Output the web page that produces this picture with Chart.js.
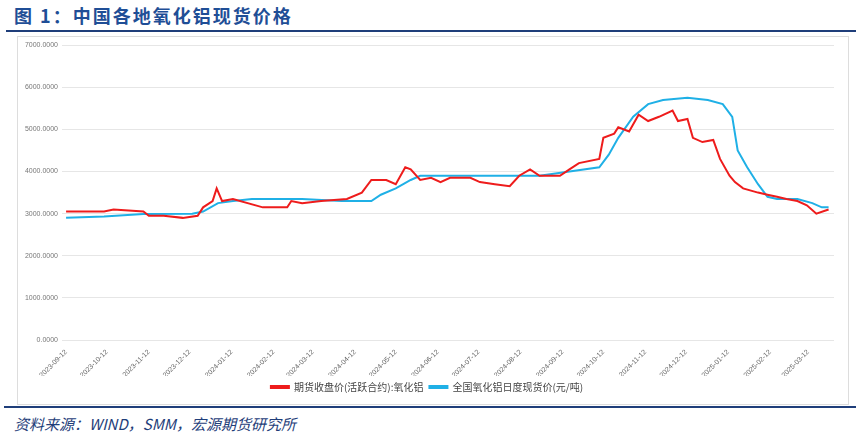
<!DOCTYPE html>
<html><head><meta charset="utf-8">
<script src="https://cdn.jsdelivr.net/npm/chart.js@4"></script>
<style>
body{margin:0;background:#fff;width:861px;height:439px;overflow:hidden;font-family:"Noto Sans CJK SC",sans-serif;}
#title{position:absolute;left:14px;top:2px;font-size:18px;font-weight:bold;color:#1f4e96;letter-spacing:2px;}
#rule1{position:absolute;left:6px;top:30px;width:850px;height:2px;background:#1f3e7a;}
#box{position:absolute;left:17px;top:36px;width:830px;height:367px;border:1px solid #ddd;}
#rule2{position:absolute;left:4px;top:406px;width:852px;height:2px;background:#1f3e7a;}
#src{position:absolute;left:14px;top:413px;font-size:15px;font-style:italic;color:#1f3e7a;font-family:"Noto Sans CJK SC","Liberation Serif",serif;}
</style></head><body>
<div id="title">图 1：中国各地氧化铝现货价格</div>
<div id="rule1"></div>
<div id="box"><canvas id="c" width="830" height="367"></canvas></div>
<div id="rule2"></div>
<div id="src">资料来源：WIND，SMM，宏源期货研究所</div>
<script>
// 天数：自 2023-09-12 起
const futDays = [0,28,35,57,61,72,86,97,101,108,111,115,123,145,163,166,174,188,207,218,225,236,243,250,254,261,269,276,283,298,305,316,327,334,342,349,364,371,378,393,396,404,407,415,422,429,437,447,451,458,462,469,477,482,489,493,499,510,517,524,531,539,546,553,562];
const futVals = [3050,3050,3100,3050,2950,2950,2900,2950,3150,3300,3600,3300,3350,3150,3150,3300,3250,3300,3350,3500,3800,3800,3700,4100,4050,3800,3850,3750,3850,3850,3750,3700,3650,3900,4050,3900,3900,4050,4200,4300,4800,4900,5050,4950,5350,5200,5300,5450,5200,5250,4800,4700,4750,4300,3900,3750,3600,3500,3450,3400,3350,3300,3200,3000,3100];
const spotDays = [0,28,57,93,101,112,123,137,174,203,225,232,243,254,261,320,349,371,393,400,407,418,429,440,458,473,484,491,495,502,510,517,524,539,550,557,562];
const spotVals = [2900,2930,2990,3000,3050,3250,3300,3350,3350,3300,3300,3450,3600,3800,3900,3900,3900,4000,4100,4400,4800,5300,5600,5700,5750,5700,5600,5300,4500,4100,3700,3400,3350,3350,3250,3150,3150];
const labelFut = '期货收盘价(活跃合约):氧化铝';
const labelSpot = '全国氧化铝日度现货价(元/吨)';

const base = Date.UTC(2023, 8, 12);
const monthTicks = [];
for (let m = 0; m <= 18; m++) {
    monthTicks.push(Math.round((Date.UTC(2023, 8 + m, 12) - base) / 86400000));
}
const fmt = d => new Date(base + d * 86400000).toISOString().slice(0, 10);
const pts = (xs, ys) => xs.map((x, i) => ({ x: x, y: ys[i] }));

new Chart(document.getElementById('c'), {
    type: 'line',
    data: {
        datasets: [
            { label: labelFut, data: pts(futDays, futVals), borderColor: '#ee1c1c', borderWidth: 2, pointRadius: 0, tension: 0 },
            { label: labelSpot, data: pts(spotDays, spotVals), borderColor: '#1fb0e6', borderWidth: 2, pointRadius: 0, tension: 0 },
        ],
    },
    options: {
        responsive: false,
        animation: false,
        layout: { padding: { left: 2, right: 14, top: 4, bottom: 2 } },
        plugins: {
            legend: {
                position: 'bottom',
                labels: { boxWidth: 18, boxHeight: 2, color: '#444', font: { size: 10, family: 'Noto Sans CJK SC' }, padding: 6 },
            },
        },
        scales: {
            x: {
                type: 'linear', min: -3, max: 566,
                afterBuildTicks: ax => { ax.ticks = monthTicks.map(v => ({ value: v })); },
                afterFit: ax => { ax.height = 36; },
                grid: { display: false },
                border: { display: false },
                ticks: { callback: v => fmt(v), maxRotation: 45, minRotation: 45, color: '#666', font: { size: 7 }, autoSkip: false, padding: 0 },
            },
            y: {
                min: 0, max: 7000,
                afterFit: ax => { ax.width = 42; },
                ticks: { stepSize: 1000, callback: v => v.toFixed(4), color: '#777', font: { size: 7 }, padding: 4 },
                grid: { color: '#e6e6e6', drawTicks: false },
                border: { display: false },
            },
        },
    },
});
</script>
</body></html>
